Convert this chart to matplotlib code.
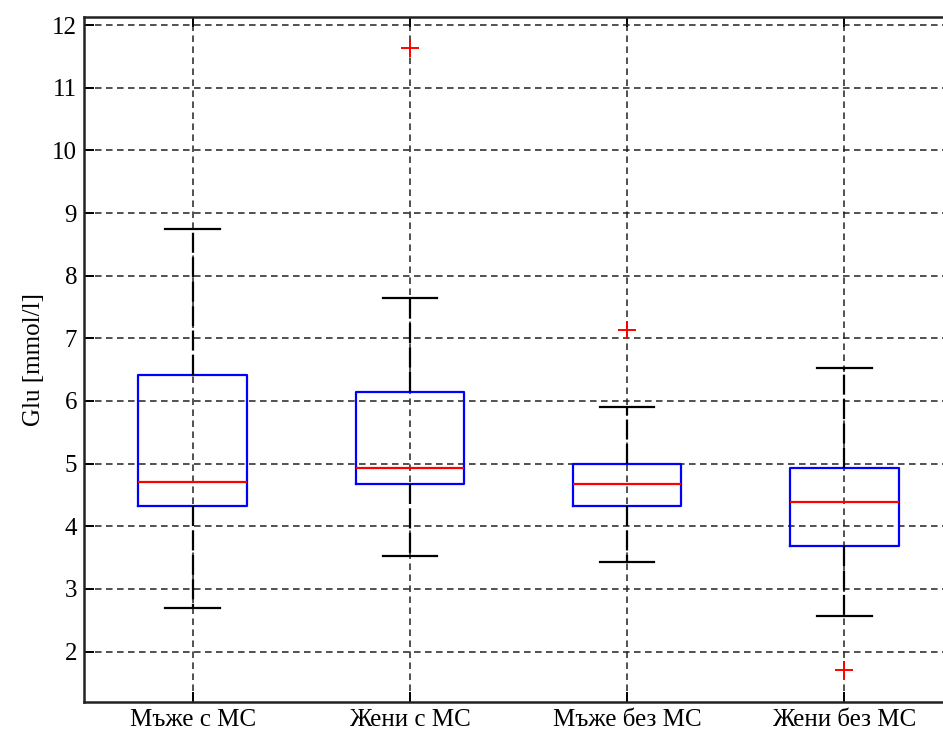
import matplotlib
matplotlib.use('Agg')
import matplotlib.pyplot as plt

# group names along the x axis
groups = ['Мъже с МС', 'Жени с МС', 'Мъже без МС', 'Жени без МС']

# box statistics for Glu [mmol/l]
whisker_low = [2.70, 3.53, 3.43, 2.57]
q1 = [4.33, 4.68, 4.33, 3.69]
median = [4.71, 4.93, 4.68, 4.39]
q3 = [6.42, 6.15, 5.00, 4.93]
whisker_high = [8.74, 7.65, 5.90, 6.53]
outliers = [[], [11.64], [7.14], [1.71]]

yticks = [2, 3, 4, 5, 6, 7, 8, 9, 10, 11, 12]

plt.rcParams['font.family'] = ['Liberation Serif', 'DejaVu Serif']

fig = plt.figure(figsize=(9.43, 7.31), dpi=100)
# axes runs a little past the right border of the figure
ax = fig.add_axes([0.0891, 0.0401, 0.9215, 0.9367])

stats = []
for i in range(len(groups)):
    stats.append({'whislo': whisker_low[i], 'q1': q1[i], 'med': median[i],
                  'q3': q3[i], 'whishi': whisker_high[i], 'fliers': outliers[i]})

ax.bxp(stats, positions=[1, 2, 3, 4], widths=0.5, showfliers=True,
       boxprops=dict(color='#0000ff', linewidth=1.6),
       medianprops=dict(color='#ff0000', linewidth=1.6),
       whiskerprops=dict(color='black', linewidth=1.6, linestyle=(0, (9, 2))),
       capprops=dict(color='black', linewidth=1.6),
       capwidths=0.25,
       flierprops=dict(marker='+', markeredgecolor='#ff0000', markersize=13,
                       markeredgewidth=1.4, linestyle='none'),
       zorder=3)

ax.set_xlim(0.5, 4.5)
ax.set_ylim(1.2, 12.13)
ax.set_xticks([1, 2, 3, 4])
ax.set_xticklabels(groups)
ax.set_yticks(yticks)

ax.grid(True, color='#222222', linestyle=(0, (4.3, 2.9)), linewidth=1.1, zorder=1)
ax.set_axisbelow(True)

ax.tick_params(direction='in', length=7, width=1.4, top=True, right=True,
               labelsize=18, colors='black', pad=5)
for s in ax.spines.values():
    s.set_linewidth(1.8)
    s.set_color('#222222')

ax.set_ylabel('Glu [mmol/l]', fontsize=18, labelpad=5)

fig.savefig('out.png', dpi=100)
